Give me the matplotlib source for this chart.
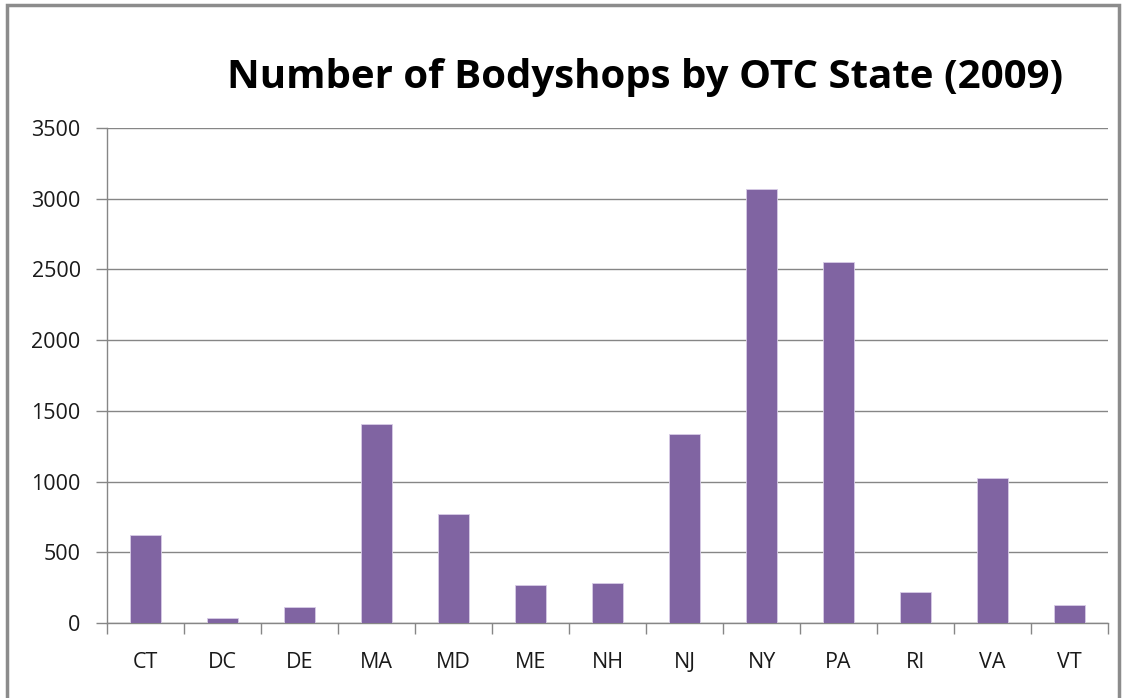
import numpy as np
import matplotlib
matplotlib.use("Agg")
import matplotlib.pyplot as plt
from matplotlib.patches import Rectangle

states = ["CT", "DC", "DE", "MA", "MD", "ME", "NH", "NJ", "NY", "PA", "RI", "VA", "VT"]
shops = [620, 35, 110, 1405, 770, 270, 280, 1340, 3070, 2555, 220, 1025, 130]
yticks = [0, 500, 1000, 1500, 2000, 2500, 3000, 3500]

plt.rcParams["font.family"] = ["Open Sans", "DejaVu Sans"]
grey = "#868686"

fig = plt.figure(figsize=(11.28, 6.98), dpi=100)
ax = fig.add_axes([0.0949, 0.1074, 0.8874, 0.7092])

x = np.arange(len(states))
ax.bar(x, shops, width=0.4, color="#8064A2", edgecolor="#d8cce6", linewidth=0.6, zorder=3)

ax.set_xlim(-0.5, len(states) - 0.5)
ax.set_ylim(0, 3500)
ax.set_yticks(yticks)
ax.set_yticklabels([str(v) for v in yticks], fontsize=15.5, color="#1a1a1a")
ax.set_xticks(x)
ax.set_xticklabels(states, fontsize=15.5, color="#1a1a1a")
ax.set_xticks(np.arange(len(states) + 1) - 0.5, minor=True)
ax.tick_params(axis="x", which="major", length=0, pad=21)
ax.tick_params(axis="x", which="minor", length=8, color=grey, width=1)
ax.tick_params(axis="y", length=8, color=grey, width=1, pad=11)

ax.grid(axis="y", color=grey, linewidth=1, zorder=0)
for s in ["top", "right"]:
    ax.spines[s].set_visible(False)
for s in ["left", "bottom"]:
    ax.spines[s].set_color(grey)
    ax.spines[s].set_linewidth(1)

fig.text(0.572, 0.889, "Number of Bodyshops by OTC State (2009)", ha="center", va="center",
         fontsize=29, fontweight="bold", color="black")

# outer chart frame
fig.patches.append(Rectangle((0.006, -0.1), 0.986, 1.093, transform=fig.transFigure,
                             fill=False, edgecolor="#8c8c8c", linewidth=2.5))

fig.savefig("out.png", dpi=100)
